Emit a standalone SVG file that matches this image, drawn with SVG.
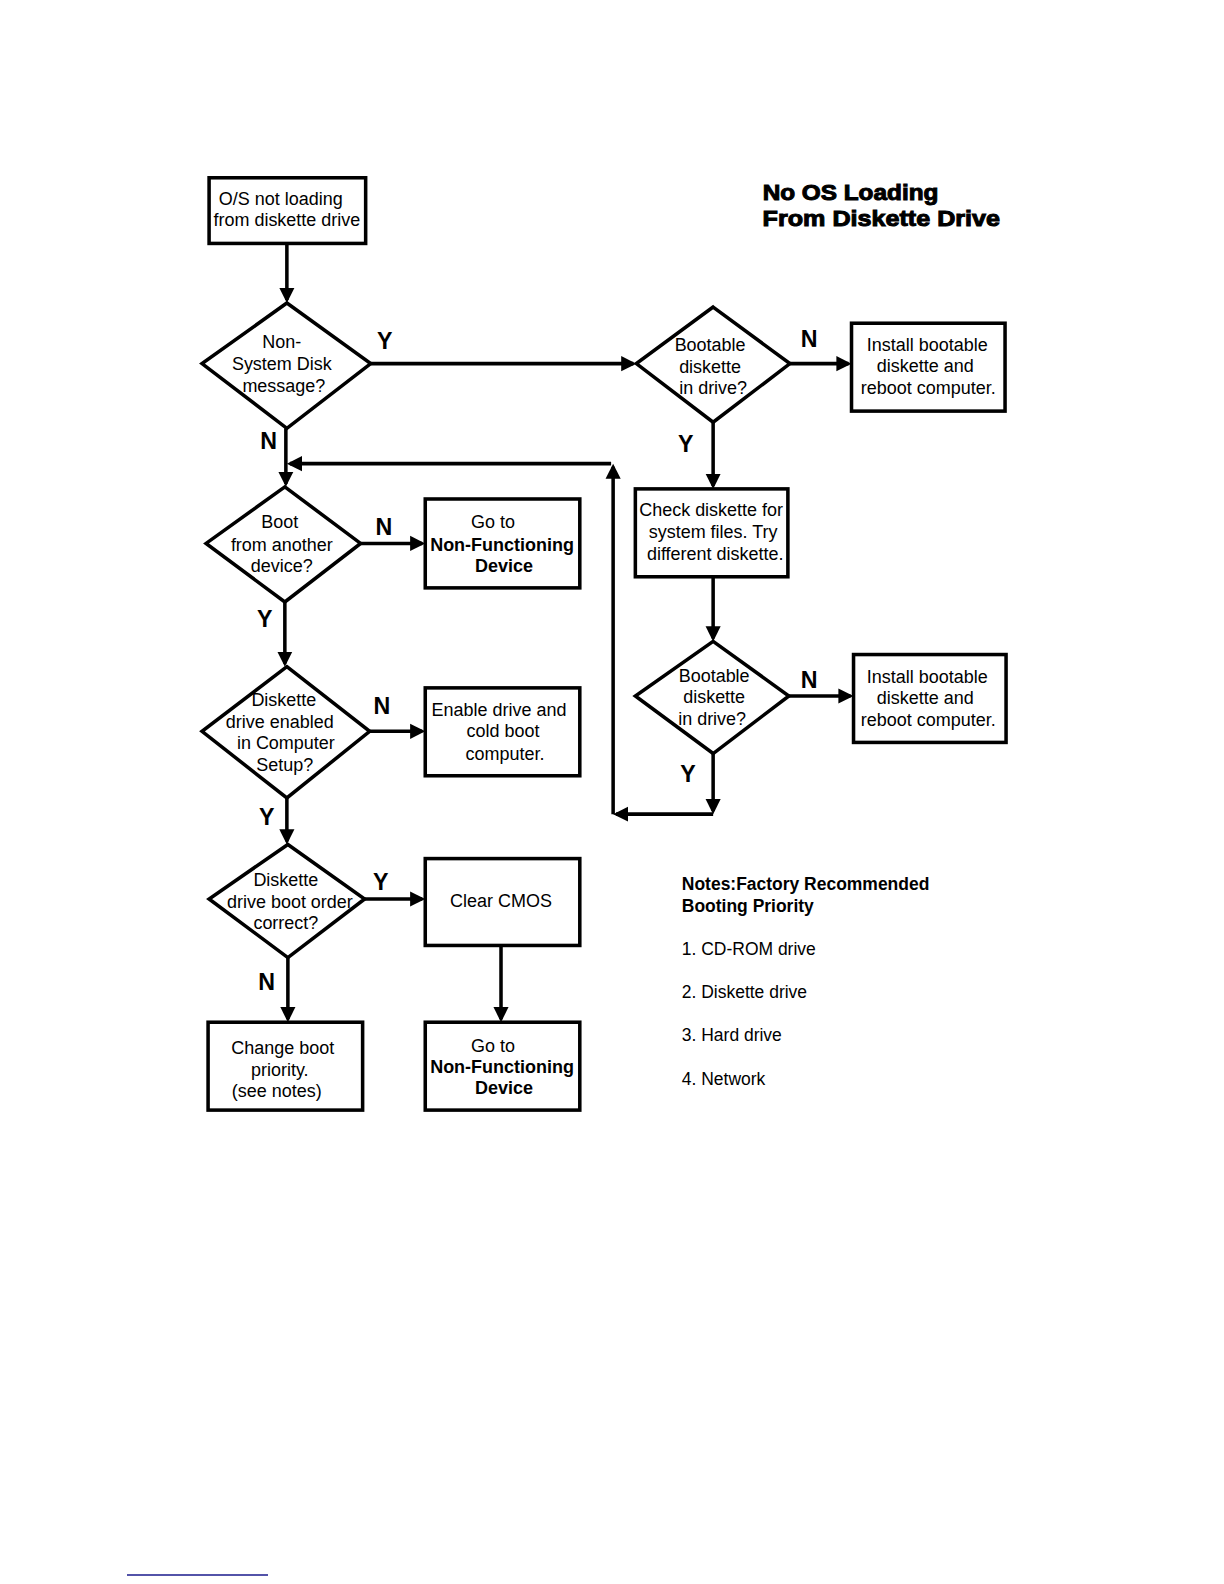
<svg xmlns="http://www.w3.org/2000/svg" width="1224" height="1584" viewBox="0 0 1224 1584">
<defs>
<style>
.box{fill:#fff;stroke:#000;stroke-width:3.5}
.dia{fill:#fff;stroke:#000;stroke-width:3.5;stroke-linejoin:miter}
.ln{fill:none;stroke:#000;stroke-width:3.5}
.t{font-family:"Liberation Sans",Arial,sans-serif;font-size:17.8px;fill:#000;text-anchor:middle}
.tb{font-family:"Liberation Sans",Arial,sans-serif;font-size:17.8px;font-weight:bold;fill:#000;text-anchor:middle}
.lbl{font-family:"Liberation Sans",Arial,sans-serif;font-size:23px;font-weight:bold;fill:#000;text-anchor:middle}
.title{font-family:"Liberation Sans",Arial,sans-serif;font-size:22px;font-weight:bold;fill:#000;stroke:#000;stroke-width:1}
.note{font-family:"Liberation Sans",Arial,sans-serif;font-size:17.3px;fill:#000}
.noteb{font-family:"Liberation Sans",Arial,sans-serif;font-size:17.3px;font-weight:bold;fill:#000}
</style>
<marker id="ah" markerUnits="userSpaceOnUse" markerWidth="16" markerHeight="16" refX="12" refY="8" orient="auto">
<path d="M0,0.5 L15,8 L0,15.5 z" fill="#000"/>
</marker>
</defs>
<rect width="1224" height="1584" fill="#fff"/>
<g transform="scale(1.0101)">
<g id="title">
<text class="title" x="755" y="198" textLength="174" lengthAdjust="spacingAndGlyphs">No OS Loading</text>
<text class="title" x="755" y="224" textLength="235" lengthAdjust="spacingAndGlyphs">From Diskette Drive</text>
</g>

<g id="connectors">
<line class="ln" x1="284" y1="241" x2="284" y2="297" marker-end="url(#ah)"/>
<line class="ln" x1="367" y1="360" x2="627" y2="360" marker-end="url(#ah)"/>
<line class="ln" x1="782" y1="360" x2="840" y2="360" marker-end="url(#ah)"/>
<line class="ln" x1="706" y1="418" x2="706" y2="481" marker-end="url(#ah)"/>
<line class="ln" x1="706" y1="571" x2="706" y2="632" marker-end="url(#ah)"/>
<line class="ln" x1="781" y1="689" x2="842" y2="689" marker-end="url(#ah)"/>
<line class="ln" x1="706" y1="746" x2="706" y2="803" marker-end="url(#ah)"/>
<line class="ln" x1="706" y1="806" x2="610" y2="806" marker-end="url(#ah)"/>
<line class="ln" x1="607" y1="806" x2="607" y2="462" marker-end="url(#ah)"/>
<line class="ln" x1="605" y1="459" x2="287" y2="459" marker-end="url(#ah)"/>
<line class="ln" x1="283" y1="424" x2="283" y2="479" marker-end="url(#ah)"/>
<line class="ln" x1="357" y1="538" x2="418" y2="538" marker-end="url(#ah)"/>
<line class="ln" x1="282" y1="596" x2="282" y2="657" marker-end="url(#ah)"/>
<line class="ln" x1="366" y1="724" x2="418" y2="724" marker-end="url(#ah)"/>
<line class="ln" x1="284" y1="790" x2="284" y2="833" marker-end="url(#ah)"/>
<line class="ln" x1="361" y1="890" x2="418" y2="890" marker-end="url(#ah)"/>
<line class="ln" x1="285" y1="948" x2="285" y2="1009" marker-end="url(#ah)"/>
<line class="ln" x1="496" y1="936" x2="496" y2="1009" marker-end="url(#ah)"/>
<text class="lbl" x="381" y="346">Y</text>
<text class="lbl" x="266" y="445">N</text>
<text class="lbl" x="801" y="344">N</text>
<text class="lbl" x="679" y="447">Y</text>
<text class="lbl" x="380" y="530">N</text>
<text class="lbl" x="262" y="621">Y</text>
<text class="lbl" x="378" y="707">N</text>
<text class="lbl" x="801" y="681">N</text>
<text class="lbl" x="681" y="774">Y</text>
<text class="lbl" x="264" y="817">Y</text>
<text class="lbl" x="377" y="881">Y</text>
<text class="lbl" x="264" y="980">N</text>
</g>

<g id="start">
<rect class="box" x="207" y="176" width="155" height="65"/>
<text class="t" x="278" y="203">O/S not loading</text>
<text class="t" x="284" y="224">from diskette drive</text>
</g>

<g id="d-nonsystem">
<polygon class="dia" points="284,300 367,360 284,424 200,360"/>
<text class="t" x="279" y="345">Non-</text>
<text class="t" x="279" y="366">System Disk</text>
<text class="t" x="281" y="388">message?</text>
</g>

<g id="d-bootable1">
<polygon class="dia" points="706,304 782,360 706,418 630,360"/>
<text class="t" x="703" y="347">Bootable</text>
<text class="t" x="703" y="369">diskette</text>
<text class="t" x="706" y="390">in drive?</text>
</g>

<g id="install1">
<rect class="box" x="843" y="320" width="152" height="87"/>
<text class="t" x="918" y="347">Install bootable</text>
<text class="t" x="916" y="368">diskette and</text>
<text class="t" x="919" y="390">reboot computer.</text>
</g>

<g id="check">
<rect class="box" x="629" y="484" width="151" height="87"/>
<text class="t" x="704" y="511">Check diskette for</text>
<text class="t" x="706" y="533">system files. Try</text>
<text class="t" x="708" y="554">different diskette.</text>
</g>

<g id="d-bootable2">
<polygon class="dia" points="706,635 781,689 706,746 629,689"/>
<text class="t" x="707" y="675">Bootable</text>
<text class="t" x="707" y="696">diskette</text>
<text class="t" x="705" y="718">in drive?</text>
</g>

<g id="install2">
<rect class="box" x="845" y="648" width="151" height="87"/>
<text class="t" x="918" y="676">Install bootable</text>
<text class="t" x="916" y="697">diskette and</text>
<text class="t" x="919" y="719">reboot computer.</text>
</g>

<g id="d-another">
<polygon class="dia" points="282,482 357,538 282,596 204,538"/>
<text class="t" x="277" y="523">Boot</text>
<text class="t" x="279" y="545">from another</text>
<text class="t" x="279" y="566">device?</text>
</g>

<g id="nonfunc1">
<rect class="box" x="421" y="494" width="153" height="88"/>
<text class="t" x="488" y="523">Go to</text>
<text class="tb" x="497" y="545">Non-Functioning</text>
<text class="tb" x="499" y="566">Device</text>
</g>

<g id="d-enabled">
<polygon class="dia" points="284,660 366,724 284,790 200,724"/>
<text class="t" x="281" y="699">Diskette</text>
<text class="t" x="277" y="721">drive enabled</text>
<text class="t" x="283" y="742">in Computer</text>
<text class="t" x="282" y="763">Setup?</text>
</g>

<g id="enable">
<rect class="box" x="421" y="681" width="153" height="87"/>
<text class="t" x="494" y="709">Enable drive and</text>
<text class="t" x="498" y="730">cold boot</text>
<text class="t" x="500" y="752">computer.</text>
</g>

<g id="d-order">
<polygon class="dia" points="285,836 361,890 285,948 207,890"/>
<text class="t" x="283" y="877">Diskette</text>
<text class="t" x="287" y="899">drive boot order</text>
<text class="t" x="283" y="920">correct?</text>
</g>

<g id="cmos">
<rect class="box" x="421" y="850" width="153" height="86"/>
<text class="t" x="496" y="898">Clear CMOS</text>
</g>

<g id="nonfunc2">
<rect class="box" x="421" y="1012" width="153" height="87"/>
<text class="t" x="488" y="1041">Go to</text>
<text class="tb" x="497" y="1062">Non-Functioning</text>
<text class="tb" x="499" y="1083">Device</text>
</g>

<g id="change">
<rect class="box" x="206" y="1012" width="153" height="87"/>
<text class="t" x="280" y="1043">Change boot</text>
<text class="t" x="277" y="1065">priority.</text>
<text class="t" x="274" y="1086">(see notes)</text>
</g>

<g id="notes">
<text class="noteb" x="675" y="881">Notes:Factory Recommended</text>
<text class="noteb" x="675" y="903">Booting Priority</text>
<text class="note" x="675" y="945">1. CD-ROM drive</text>
<text class="note" x="675" y="988">2. Diskette drive</text>
<text class="note" x="675" y="1031">3. Hard drive</text>
<text class="note" x="675" y="1074">4. Network</text>
</g>
</g>
<line x1="127" y1="1575" x2="268" y2="1575" stroke="#1a1a8c" stroke-width="1.5"/>
</svg>
